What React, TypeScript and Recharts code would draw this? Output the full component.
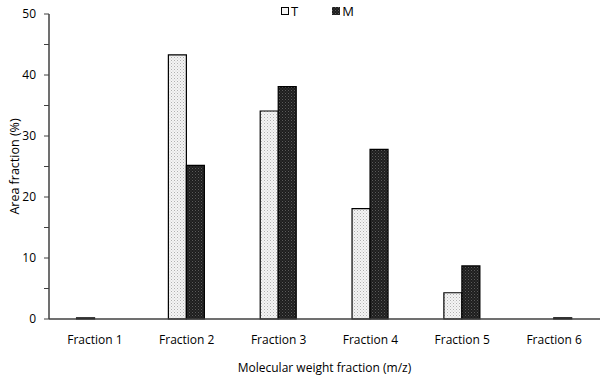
import React from 'react';
import { BarChart, Bar, XAxis, YAxis } from 'recharts';

const categories = ['Fraction 1', 'Fraction 2', 'Fraction 3', 'Fraction 4', 'Fraction 5', 'Fraction 6'];
const seriesT = [0.2, 43.3, 34.1, 18.1, 4.3, 0];
const seriesM = [0, 25.2, 38.1, 27.8, 8.7, 0.2];
const yTicks = [0, 5, 10, 15, 20, 25, 30, 35, 40, 45, 50];
const seriesNames = ['T', 'M'];

const data = categories.map((c, i) => ({ name: c, T: seriesT[i], M: seriesM[i] }));

const font = 'Open Sans, Noto Sans, sans-serif';

const LegendBox = () => (
  <div style={{ position: 'absolute', left: 281, top: 2, fontFamily: font, fontSize: 13, color: '#000', display: 'flex', lineHeight: '18px' }}>
    <span style={{ display: 'flex', alignItems: 'center' }}>
      <svg width={8} height={8} style={{ marginRight: 2 }}>
        <rect x={0.5} y={0.5} width={7} height={7} fill="#f4f4f4" stroke="#000" strokeWidth={1} />
      </svg>
      {seriesNames[0]}
    </span>
    <span style={{ display: 'flex', alignItems: 'center', marginLeft: 34 }}>
      <svg width={8} height={8} style={{ marginRight: 2 }}>
        <rect x={0} y={0} width={8} height={8} fill="url(#patM)" />
      </svg>
      {seriesNames[1]}
    </span>
  </div>
);

export default function App() {
  return (
    <div style={{ position: 'absolute', left: 0, top: 0, width: 600, height: 380, background: '#fff' }}>
      <BarChart
        width={600}
        height={380}
        data={data}
        margin={{ top: 14, right: 0, bottom: 30, left: 0 }}
        barCategoryGap="30%"
        barGap={0}
      >
        <defs>
          <pattern id="patT" width="3" height="3" patternUnits="userSpaceOnUse">
            <rect width="3" height="3" fill="#f4f4f4" />
            <rect x="0" y="0" width="1" height="1" fill="#b0b0b0" />
            <rect x="1.5" y="1.5" width="1" height="1" fill="#c8c8c8" />
          </pattern>
          <pattern id="patM" width="3" height="3" patternUnits="userSpaceOnUse">
            <rect width="3" height="3" fill="#1e1e1e" />
            <rect x="0" y="0" width="1" height="1" fill="#5a5a5a" />
            <rect x="1.5" y="1.5" width="1" height="1" fill="#444" />
          </pattern>
        </defs>
        <XAxis
          dataKey="name"
          tickLine={false}
          axisLine={{ stroke: '#404040', strokeWidth: 1.5 }}
          tick={{ fill: '#000', fontSize: 12, fontFamily: font }}
          tickMargin={10}
          height={31}
          label={{ value: 'Molecular weight fraction (m/z)', position: 'insideBottom', offset: -22, fill: '#000', fontSize: 12, fontFamily: font }}
        />
        <YAxis
          domain={[0, 50]}
          ticks={yTicks}
          interval={0}
          width={49}
          tickSize={5}
          tickLine={{ stroke: '#404040' }}
          axisLine={{ stroke: '#404040', strokeWidth: 1.5 }}
          tick={{ fill: '#000', fontSize: 12, fontFamily: font }}
          tickMargin={8}
          tickFormatter={(v: number) => (v % 10 === 0 ? String(v) : '')}
          label={{ value: 'Area fraction (%)', angle: -90, position: 'insideLeft', offset: 15, dx: 0, fill: '#000', fontSize: 12.5, fontFamily: font, style: { textAnchor: 'middle' } }}
        />
        <Bar dataKey="T" fill="url(#patT)" stroke="#000" strokeWidth={1.2} isAnimationActive={false} />
        <Bar dataKey="M" fill="url(#patM)" stroke="#000" strokeWidth={1.2} isAnimationActive={false} />
      </BarChart>
      <LegendBox />
    </div>
  );
}
